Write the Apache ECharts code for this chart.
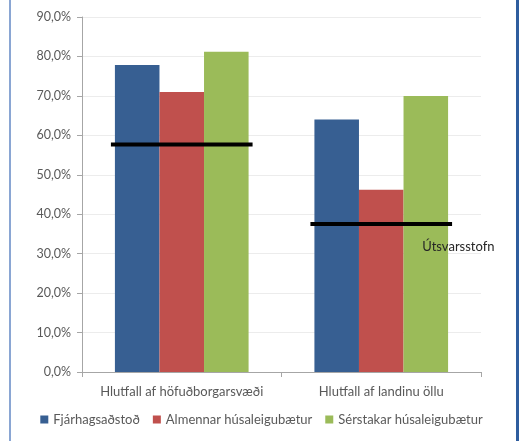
<!DOCTYPE html>
<html>
<head>
<meta charset="utf-8">
<script src="https://cdn.jsdelivr.net/npm/echarts@6/dist/echarts.min.js"></script>
<style>
	html, body { margin: 0; padding: 0; background: #fff; }
	#chart { width: 523px; height: 441px; position: relative; }
	.frameL { position: absolute; left: 9px; top: 0; width: 2px; height: 441px; background: #8aa6d3; }
	.frameR { position: absolute; left: 516px; top: 0; width: 3px; height: 441px; background: #2f5d9e; }
</style>
</head>
<body>
<div id="chart"></div>
<div class="frameL"></div>
<div class="frameR"></div>
<script>
	// data
	var categories = ['Hlutfall af höfuðborgarsvæði', 'Hlutfall af landinu öllu'];
	var seriesNames = ['Fjárhagsaðstoð', 'Almennar húsaleigubætur', 'Sérstakar húsaleigubætur'];
	var fjarhags = [77.8, 64.0];
	var almennar = [71.0, 46.2];
	var serstakar = [81.2, 70.0];
	var utsvar = [57.7, 37.5];
	var utsvarLabels = ['', 'Útsvarsstofn'];
	var colors = ['#375f92', '#c0504d', '#9bbb59'];

	var font = 'Lato';
	var chart = echarts.init(document.getElementById('chart'));

	var barSeries = [fjarhags, almennar, serstakar].map(function (d, i) {
		return {
			name: seriesNames[i],
			type: 'bar',
			data: d,
			barGap: '0%',
			barCategoryGap: '33%',
			itemStyle: { color: colors[i] }
		};
	});

	var option = {
		animation: false,
		textStyle: { fontFamily: font },
		grid: { left: 82, right: 42, top: 17, bottom: 69 },
		legend: {
			data: seriesNames,
			bottom: 10,
			left: 'center',
			icon: 'rect',
			itemWidth: 8,
			itemHeight: 8,
			itemGap: 13,
			textStyle: { color: '#595959', fontSize: 13, fontFamily: font }
		},
		xAxis: {
			type: 'category',
			data: categories,
			axisLine: { lineStyle: { color: '#a6a6a6' } },
			axisTick: { show: true, alignWithLabel: false, length: 5, lineStyle: { color: '#a6a6a6' } },
			axisLabel: { color: '#595959', fontSize: 13, margin: 13, interval: 0 }
		},
		yAxis: {
			type: 'value',
			min: 0,
			max: 90,
			interval: 10,
			axisLine: { show: true, lineStyle: { color: '#a6a6a6' } },
			axisTick: { show: true, length: 5, lineStyle: { color: '#a6a6a6' } },
			splitLine: { lineStyle: { color: '#ececec' } },
			axisLabel: {
				color: '#595959',
				fontSize: 12.5,
				margin: 11,
				formatter: function (v) { return v.toFixed(1).replace('.', ',') + '%'; }
			}
		},
		series: barSeries.concat([{
			name: 'Útsvarsstofn',
			type: 'custom',
			z: 5,
			data: utsvar.map(function (v, i) { return [i, v]; }),
			renderItem: function (params, api) {
				var pt = api.coord([api.value(0), api.value(1)]);
				var w = api.size([1, 0])[0] * 0.71;
				var children = [{
					type: 'line',
					shape: { x1: pt[0] - w / 2, y1: pt[1], x2: pt[0] + w / 2, y2: pt[1] },
					style: { stroke: '#000', lineWidth: 4 }
				}];
				var txt = utsvarLabels[params.dataIndex];
				if (txt) {
					children.push({
						type: 'text',
						x: pt[0] + 41,
						y: pt[1] + 23,
						style: { text: txt, fill: '#262626', font: '13px "' + font + '"', verticalAlign: 'middle' }
					});
				}
				return { type: 'group', children: children };
			}
		}])
	};
	chart.setOption(option);
</script>
</body>
</html>
